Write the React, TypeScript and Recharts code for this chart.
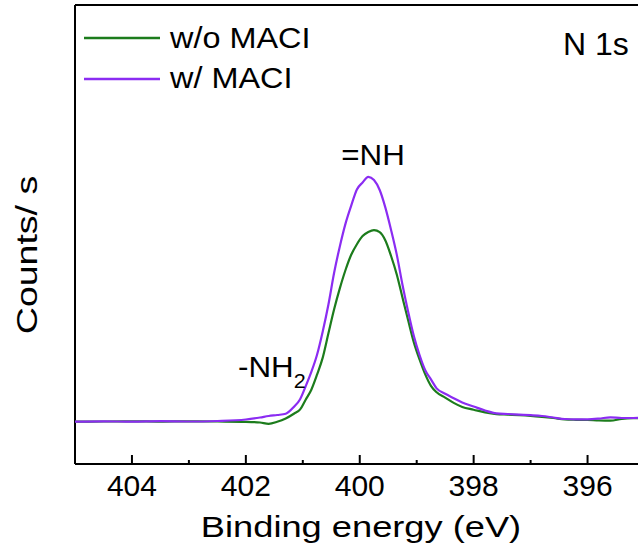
import { LineChart, Line, XAxis, YAxis, ReferenceLine } from "recharts";

// binding energy (eV), both spectra sampled on the same grid
const energy = [
  405, 404.5, 404, 403.5, 403, 402.5, 402, 401.75, 401.6, 401.45, 401.3, 401.15,
  401.05, 400.95, 400.85, 400.75, 400.65, 400.55, 400.45, 400.35, 400.25, 400.15,
  400.05, 399.95, 399.85, 399.75, 399.65, 399.55, 399.45, 399.35, 399.25, 399.15,
  399.05, 398.95, 398.85, 398.75, 398.65, 398.5, 398.35, 398.2, 398.0, 397.8,
  397.6, 397.4, 397.2, 397.0, 396.8, 396.6, 396.4, 396.2, 396.0, 395.8,
  395.6, 395.4, 395.2, 395.0,
];

// counts (arb. units)
const withoutMACl = [
  42.3, 42.5, 42.7, 42.4, 42.7, 42.5, 42.2, 41.5, 40.2, 42.2, 45.5, 50.5,
  54.4, 64.3, 74.3, 89.3, 106.4, 130.7, 154.7, 175.6, 194, 209.2,
  219.8, 228, 232, 233.9, 231.8, 223.5, 208, 189.5, 166.5, 143.7,
  121.6, 104.5, 89.6, 78.2, 71.7, 66.4, 61.1, 57, 54.3, 51.6,
  49.9, 49.4, 48.9, 48.2, 47.2, 46, 44.6, 44.2, 44, 43.5,
  43.3, 45, 45.8, 46,
];

const withMACl = [
  42.3, 42.7, 42.3, 42.8, 42.5, 43, 44.5, 46.5, 48, 49, 50.2, 57.5,
  64.5, 77.7, 92.1, 109.2, 132.5, 159.5, 191.2, 217.6, 240.4, 258.4,
  274.6, 281.5, 287.2, 284, 274, 256.4, 234.1, 209.4, 179.3, 152.3,
  128, 109, 93.8, 84.6, 75.6, 70.2, 65.8, 61.5, 57.5, 53.5,
  50.6, 50, 49.4, 48.8, 48, 46.5, 45, 44.7, 44.7, 45.4,
  46.7, 46, 46, 46.3,
];

const xTicks = [404, 403, 402, 401, 400, 399, 398, 397, 396, 395];

const seriesNames = ["w/o MACI", "w/ MACI"];
const GREEN = "#1c7c1c";
const PURPLE = "#8b2cf2";
const FONT = "'Liberation Sans', Arial, sans-serif";

const data = energy.map((e, i) => ({ e, wo: withoutMACl[i], w: withMACl[i] }));

function EnergyTick(props: any) {
  const { x, y, payload } = props;
  const major = payload.value % 2 === 0;
  return (
    <g>
      <line x1={x} x2={x} y1={y} y2={y - (major ? 9 : 4)} stroke="#000" strokeWidth={2} />
      {major && (
        <text x={x} y={y + 31.5} textAnchor="middle" fontSize={30} fontFamily={FONT} fill="#000">
          {payload.value}
        </text>
      )}
    </g>
  );
}

export default function App() {
  return (
    <div style={{ position: "fixed", left: 0, top: 0, width: 638, height: 558, overflow: "hidden", background: "#fff" }}>
      <LineChart
        width={660}
        height={558}
        data={data}
        margin={{ top: 5, right: 15.5, left: 75, bottom: 0 }}
      >
        <XAxis
          dataKey="e"
          type="number"
          domain={[395, 405]}
          reversed
          allowDataOverflow
          ticks={xTicks}
          interval={0}
          height={94}
          tickSize={0}
          tickMargin={0}
          tickLine={false}
          axisLine={{ stroke: "#000", strokeWidth: 2 }}
          tick={<EnergyTick />}
        />
        <YAxis domain={[0, 459]} hide allowDataOverflow />
        <ReferenceLine x={405} stroke="#000" strokeWidth={2} />
        <ReferenceLine y={459} stroke="#000" strokeWidth={2} />
        <Line dataKey="wo" name={seriesNames[0]} stroke={GREEN} strokeWidth={2.2} dot={false} type="monotone" isAnimationActive={false} />
        <Line dataKey="w" name={seriesNames[1]} stroke={PURPLE} strokeWidth={2.2} dot={false} type="monotone" isAnimationActive={false} />
      </LineChart>
      <svg width={638} height={558} style={{ position: "absolute", left: 0, top: 0, pointerEvents: "none" }}>
        {/* legend */}
        <line x1={84} x2={160} y1={38} y2={38} stroke={GREEN} strokeWidth={2.5} />
        <text transform="translate(170 48) scale(1.08 1)" fontSize={30} fontFamily={FONT} fill="#000">{seriesNames[0]}</text>
        <line x1={84} x2={160} y1={79} y2={79} stroke={PURPLE} strokeWidth={2.5} />
        <text transform="translate(170 88) scale(1.08 1)" fontSize={30} fontFamily={FONT} fill="#000">{seriesNames[1]}</text>

        <text transform="translate(37 255) rotate(-90) scale(1.25 1)" textAnchor="middle" fontSize={30} fontFamily={FONT} fill="#000">
          Counts/ s
        </text>
        <text transform="translate(361 537) scale(1.25 1)" textAnchor="middle" fontSize={29} fontFamily={FONT} fill="#000">
          Binding energy (eV)
        </text>
        <text x={563} y={55} fontSize={32} fontFamily={FONT} fill="#000">N 1s</text>
        <text transform="translate(373 165) scale(1.08 1)" textAnchor="middle" fontSize={29} fontFamily={FONT} fill="#000">=NH</text>
        <text transform="translate(238 377) scale(1.08 1)" fontSize={29} fontFamily={FONT} fill="#000">
          -NH<tspan fontSize={20} dy={11}>2</tspan>
        </text>
      </svg>
    </div>
  );
}
